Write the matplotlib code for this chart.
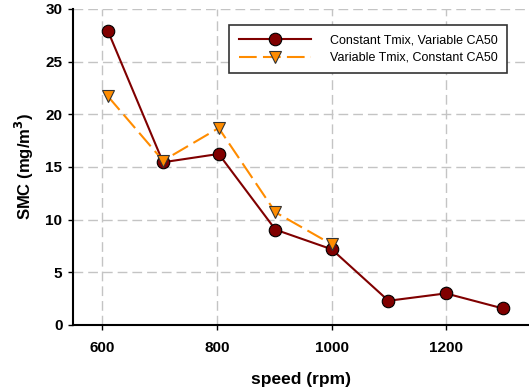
import matplotlib
matplotlib.use("Agg")
import matplotlib.pyplot as plt

speed_a = [610, 706, 803, 902, 1000, 1099, 1199, 1298]
smc_a = [27.9, 15.45, 16.24, 9.05, 7.19, 2.3, 3.0, 1.58]
speed_b = [610, 706, 803, 902, 1000]
smc_b = [21.7, 15.6, 18.7, 10.7, 7.66]
label_a = "Constant Tmix, Variable CA50"
label_b = "Variable Tmix, Constant CA50"
xticks = [600, 800, 1000, 1200]
yticks = [0, 5, 10, 15, 20, 25, 30]

plt.rcParams['font.family'] = ['Liberation Sans', 'DejaVu Sans']

fig = plt.figure(figsize=(5.29, 3.90), dpi=100)
ax = fig.add_axes([73/529, 65/390, 1 - 73/529, 316/390])

ax.plot(speed_a, smc_a, color='#800000', lw=1.5, marker='o', ms=9,
        mfc='#800000', mec='black', mew=0.8, label=label_a, zorder=3)
ax.plot(speed_b, smc_b, color='#FF8C00', lw=1.5, ls=(0, (8.5, 3)), marker='v', ms=9,
        mfc='#FF8C00', mec='#333333', mew=0.8, label=label_b, zorder=4)

ax.set_xlim(549, 1344)
ax.set_ylim(0, 30)
ax.set_xticks(xticks)
ax.set_yticks(yticks)
ax.grid(True, color='#c4c4c4', ls=(0, (7, 3.6)), lw=1.0, zorder=0)
ax.set_axisbelow(True)

for s in ['top', 'right']:
    ax.spines[s].set_visible(False)
for s in ['left', 'bottom']:
    ax.spines[s].set_linewidth(1.5)

ax.tick_params(direction='out', length=3.6, width=1, labelsize=11)
ax.tick_params(axis='y', pad=4)
ax.tick_params(axis='x', pad=8)
for lab in ax.get_xticklabels() + ax.get_yticklabels():
    lab.set_fontweight('bold')

ax.set_xlabel('speed (rpm)', fontsize=12.5, fontweight='bold', labelpad=12)
ax.set_ylabel('SMC (mg/m$\\mathbf{^3}$)', fontsize=12, fontweight='bold', labelpad=7)

leg = ax.legend(loc='upper right', bbox_to_anchor=((507 - 73) / 456, 1 - 16/316),
                bbox_transform=ax.transAxes, borderaxespad=0,
                fontsize=9, frameon=True, fancybox=False,
                edgecolor='#333333', framealpha=1, handlelength=5.8, handletextpad=1.5,
                borderpad=0.75, labelspacing=0.45)
leg.get_frame().set_linewidth(1.2)

fig.savefig('out.png', dpi=100)
